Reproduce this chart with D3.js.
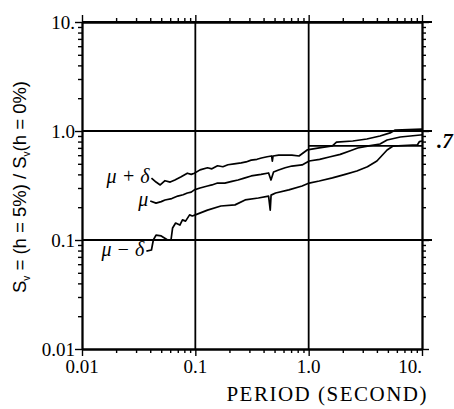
<!DOCTYPE html>
<html>
<head>
<meta charset="utf-8">
<script src="https://cdn.jsdelivr.net/npm/d3@7"></script>
<style>
  body { margin: 0; background: #fff; }
  svg { display: block; }
</style>
</head>
<body>
<svg id="drawing_region"></svg>
<script>
// [period (s), ratio]
const muPlusDelta = [
    [0.041,0.37],[0.045,0.34],[0.049,0.32],[0.054,0.35],[0.060,0.34],[0.066,0.355],[0.075,0.38],
    [0.085,0.41],[0.092,0.40],[0.098,0.41],[0.11,0.44],[0.128,0.46],[0.14,0.45],[0.157,0.48],
    [0.175,0.47],[0.194,0.49],[0.22,0.50],[0.254,0.51],[0.28,0.52],[0.311,0.54],[0.35,0.55],
    [0.383,0.565],[0.43,0.58],[0.471,0.59],[0.478,0.53],[0.485,0.59],[0.543,0.60],[0.62,0.60],
    [0.711,0.60],[0.822,0.59],[0.97,0.67],[1.24,0.70],[1.62,0.73],[1.76,0.79],[2.45,0.81],
    [3.26,0.845],[4.26,0.90],[5.23,0.96],[5.80,1.02],[10,1.04]
];
const muMean = [
    [0.040,0.228],[0.045,0.218],[0.050,0.225],[0.054,0.233],[0.062,0.24],[0.070,0.253],[0.078,0.26],
    [0.085,0.27],[0.092,0.275],[0.098,0.288],[0.11,0.30],[0.128,0.313],[0.14,0.32],[0.157,0.333],
    [0.182,0.333],[0.21,0.345],[0.238,0.355],[0.27,0.37],[0.311,0.387],[0.38,0.40],[0.443,0.412],
    [0.465,0.355],[0.49,0.421],[0.543,0.439],[0.62,0.46],[0.711,0.477],[0.875,0.488],[1.01,0.531],
    [1.25,0.55],[1.52,0.577],[1.9,0.61],[2.30,0.656],[2.71,0.698],[3.4,0.73],[4.26,0.76],
    [4.92,0.827],[6.43,0.881],[9.7,0.919],[10,0.92]
];
const muMinusDelta = [
    [0.037,0.079],[0.041,0.081],[0.0426,0.100],[0.045,0.111],[0.050,0.109],[0.057,0.100],
    [0.061,0.100],[0.063,0.129],[0.067,0.143],[0.073,0.137],[0.077,0.153],[0.082,0.149],
    [0.089,0.170],[0.094,0.166],[0.10,0.170],[0.128,0.188],[0.168,0.205],[0.224,0.210],
    [0.275,0.233],[0.36,0.243],[0.443,0.253],[0.458,0.188],[0.466,0.258],[0.511,0.270],
    [0.668,0.288],[0.875,0.313],[1.01,0.333],[1.24,0.348],[1.62,0.371],[2.1,0.40],[2.66,0.43],
    [3.3,0.47],[4.0,0.531],[4.92,0.669],[5.56,0.728],[7.5,0.74],[9.1,0.745],[9.5,0.80],[10,0.81]
];
const refLine = [[1.0,0.73],[10,0.73]];

const tickValues = [0.01, 0.1, 1, 10];
const xTickLabels = ["0.01", "0.1", "1.0", "10."];
const yTickLabels = ["0.01", "0.1", "1.0", "10."];
const gridValues = [0.1, 1];
const curveLabels = ["\u03BC + \u03B4", "\u03BC", "\u03BC \u2212 \u03B4"];

class RatioPlot {

    constructor( config ) {
        this.config = {
            parent: config.parent,
            width: config.width || 454,
            height: config.height || 409,
            margin: config.margin || {top:22, right:32, bottom:60, left:82}
        };
        this.init();
    }

    init() {
        let self = this;

        self.svg = d3.select( self.config.parent )
            .attr('width', self.config.width)
            .attr('height', self.config.height);

        self.chart = self.svg.append('g')
            .attr('transform', `translate(${self.config.margin.left}, ${self.config.margin.top})`);

        self.inner_width = self.config.width - self.config.margin.left - self.config.margin.right;
        self.inner_height = self.config.height - self.config.margin.top - self.config.margin.bottom;

        self.xscale = d3.scaleLog()
            .domain( [0.01, 10] )
            .range( [0, self.inner_width] );

        self.yscale = d3.scaleLog()
            .domain( [0.01, 10] )
            .range( [self.inner_height, 0] );

        // 2..9 minor ticks in each decade
        self.minor = [];
        [0.01, 0.1, 1].forEach( d => {
            for (let k = 2; k <= 9; k++) self.minor.push( d * k );
        });
    }

    render() {
        let self = this;
        const w = self.inner_width, h = self.inner_height;
        const serif = 'Liberation Serif';

        // minor + major ticks on all four sides, pointing out
        const sides = [
            { make: d3.axisBottom, s: self.xscale, t: `translate(0,${h})` },
            { make: d3.axisTop,    s: self.xscale, t: `translate(0,0)` },
            { make: d3.axisLeft,   s: self.yscale, t: `translate(0,0)` },
            { make: d3.axisRight,  s: self.yscale, t: `translate(${w},0)` }
        ];
        sides.forEach( a => {
            const gMinor = self.chart.append('g').attr('transform', a.t)
                .call( a.make(a.s).tickValues(self.minor).tickSize(4).tickSizeOuter(0).tickFormat('') );
            const gMajor = self.chart.append('g').attr('transform', a.t)
                .call( a.make(a.s).tickValues(tickValues).tickSize(7).tickSizeOuter(0).tickFormat('') );
            [gMinor, gMajor].forEach( g => {
                g.selectAll('path, line').attr('stroke', '#000').attr('stroke-width', 1.4);
                g.select('.domain').attr('stroke-width', 1.8);
            });
        });

        // grid lines
        self.chart.selectAll('.hgrid')
            .data( gridValues.concat([10]) )
            .enter().append('line')
            .attr('x1', 0).attr('x2', w + 10)
            .attr('y1', d => self.yscale(d)).attr('y2', d => self.yscale(d))
            .attr('stroke', '#000').attr('stroke-width', 1.8);

        self.chart.selectAll('.vgrid')
            .data( gridValues )
            .enter().append('line')
            .attr('x1', d => self.xscale(d)).attr('x2', d => self.xscale(d))
            .attr('y1', 0).attr('y2', h)
            .attr('stroke', '#000').attr('stroke-width', 1.8);

        // tick labels
        self.chart.selectAll('.xlabel')
            .data( tickValues )
            .enter().append('text')
            .attr('x', d => self.xscale(d))
            .attr('y', h + 24)
            .attr('text-anchor', (d, i) => i === tickValues.length - 1 ? 'end' : 'middle')
            .attr('font-family', serif)
            .attr('font-size', 19)
            .text( (d, i) => xTickLabels[i] );

        self.chart.selectAll('.ylabel')
            .data( tickValues )
            .enter().append('text')
            .attr('x', -7)
            .attr('y', d => self.yscale(d))
            .attr('dy', '0.35em')
            .attr('text-anchor', 'end')
            .attr('font-family', serif)
            .attr('font-size', 19)
            .text( (d, i) => yTickLabels[i] );

        // curves
        const line = d3.line()
            .x( d => self.xscale(d[0]) )
            .y( d => self.yscale(d[1]) );

        self.chart.selectAll('.curve')
            .data( [muPlusDelta, muMean, muMinusDelta, refLine] )
            .enter().append('path')
            .attr('d', line)
            .attr('fill', 'none')
            .attr('stroke', '#000')
            .attr('stroke-width', 1.7)
            .attr('stroke-linejoin', 'round');

        // curve labels placed just left of each curve start
        [muPlusDelta, muMean, muMinusDelta].forEach( (s, i) => {
            self.chart.append('text')
                .attr('x', self.xscale(s[0][0]) - 2)
                .attr('y', self.yscale(s[0][1]) + 5)
                .attr('text-anchor', 'end')
                .attr('font-family', serif)
                .attr('font-style', 'italic')
                .attr('font-size', 20)
                .text( curveLabels[i] );
        });

        // axis titles
        self.svg.append('text')
            .attr('x', self.config.width - 26)
            .attr('y', self.config.height - 8)
            .attr('text-anchor', 'end')
            .attr('font-family', serif)
            .attr('font-size', 21)
            .attr('letter-spacing', 1.5)
            .text('PERIOD (SECOND)');

        const ylab = self.svg.append('text')
            .attr('transform', `translate(26, 187) rotate(-90)`)
            .attr('text-anchor', 'middle')
            .attr('font-family', 'Liberation Sans')
            .attr('font-size', 18.5);
        ylab.append('tspan').text('S');
        ylab.append('tspan').attr('dy', 4).attr('font-size', 10).text('v');
        ylab.append('tspan').attr('dy', -4).text(' = (h = 5%) / S');
        ylab.append('tspan').attr('dy', 4).attr('font-size', 10).text('v');
        ylab.append('tspan').attr('dy', -4).text('(h = 0%)');

        // cut-off figure number at the right edge
        self.svg.append('text')
            .attr('x', 437)
            .attr('y', 148)
            .attr('font-family', serif)
            .attr('font-style', 'italic')
            .attr('font-weight', 'bold')
            .attr('font-size', 21)
            .text('.7');
    }
}

const ratio_plot = new RatioPlot({
    parent: '#drawing_region',
    width: 454,
    height: 409,
    margin: {top:22, right:32, bottom:60, left:82}
});
ratio_plot.render();
</script>
</body>
</html>
